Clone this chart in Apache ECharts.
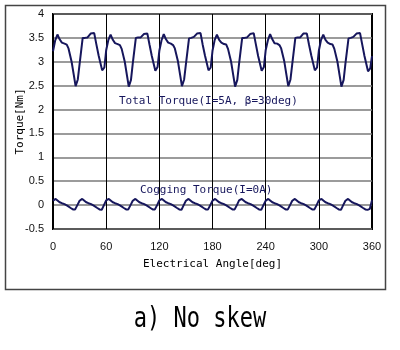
<!DOCTYPE html>
<html>
<head>
<meta charset="utf-8">
<script src="https://cdn.jsdelivr.net/npm/echarts@6/dist/echarts.min.js"></script>
<style>html,body{margin:0;padding:0;background:#fff}#c{width:400px;height:350px}</style>
</head>
<body>
<div id="c"></div>
<script>
// ---- data ----
const totalAngle = [
  0,2.5,5,7.5,10,13,15.5,17.5,21,23.5,25.5,28,30,33.5,36,39,42.5,46.5,49,51.5,55.5,58,
  60,62.5,65,67.5,70,73,75.5,77.5,81,83.5,85.5,88,90,93.5,96,99,102.5,106.5,109,111.5,115.5,118,
  120,122.5,125,127.5,130,133,135.5,137.5,141,143.5,145.5,148,150,153.5,156,159,162.5,166.5,169,171.5,175.5,178,
  180,182.5,185,187.5,190,193,195.5,197.5,201,203.5,205.5,208,210,213.5,216,219,222.5,226.5,229,231.5,235.5,238,
  240,242.5,245,247.5,250,253,255.5,257.5,261,263.5,265.5,268,270,273.5,276,279,282.5,286.5,289,291.5,295.5,298,
  300,302.5,305,307.5,310,313,315.5,317.5,321,323.5,325.5,328,330,333.5,336,339,342.5,346.5,349,351.5,355.5,358,360
];
const totalTorque = [
  3.22,3.45,3.57,3.47,3.40,3.38,3.36,3.28,3.00,2.72,2.49,2.63,2.95,3.50,3.50,3.51,3.59,3.60,3.36,3.13,2.82,2.88,
  3.24,3.46,3.57,3.46,3.39,3.37,3.35,3.27,3.00,2.71,2.48,2.62,2.96,3.50,3.51,3.51,3.58,3.59,3.35,3.12,2.81,2.89,
  3.23,3.45,3.58,3.47,3.40,3.38,3.35,3.28,3.01,2.72,2.49,2.63,2.95,3.49,3.50,3.52,3.59,3.60,3.35,3.13,2.82,2.88,
  3.23,3.46,3.57,3.46,3.40,3.37,3.36,3.27,3.00,2.71,2.48,2.62,2.96,3.50,3.50,3.51,3.58,3.60,3.36,3.12,2.81,2.89,
  3.24,3.45,3.58,3.47,3.39,3.38,3.35,3.28,3.01,2.72,2.49,2.63,2.95,3.50,3.51,3.51,3.59,3.59,3.35,3.13,2.82,2.88,
  3.23,3.46,3.57,3.46,3.40,3.37,3.36,3.27,3.00,2.71,2.48,2.62,2.96,3.49,3.50,3.52,3.59,3.60,3.36,3.12,2.80,2.86,3.12
];
const coggingAngle = [
  0,3,5,7.5,10,13,16,18,20,22.5,25,27.5,
  30,33,35,37.5,40,43,46,48,50,52.5,55,57.5,
  60,63,65,67.5,70,73,76,78,80,82.5,85,87.5,
  90,93,95,97.5,100,103,106,108,110,112.5,115,117.5,
  120,123,125,127.5,130,133,136,138,140,142.5,145,147.5,
  150,153,155,157.5,160,163,166,168,170,172.5,175,177.5,
  180,183,185,187.5,190,193,196,198,200,202.5,205,207.5,
  210,213,215,217.5,220,223,226,228,230,232.5,235,237.5,
  240,243,245,247.5,250,253,256,258,260,262.5,265,267.5,
  270,273,275,277.5,280,283,286,288,290,292.5,295,297.5,
  300,303,305,307.5,310,313,316,318,320,322.5,325,327.5,
  330,333,335,337.5,340,343,346,348,350,352.5,355,357.5,360
];
const coggingTorque = [
  0.09,0.13,0.10,0.06,0.04,0.02,-0.01,-0.03,-0.06,-0.09,-0.09,0.00,
  0.09,0.13,0.10,0.06,0.04,0.02,-0.01,-0.03,-0.06,-0.09,-0.10,0.00,
  0.10,0.13,0.10,0.06,0.04,0.02,-0.01,-0.03,-0.06,-0.09,-0.09,0.00,
  0.09,0.13,0.10,0.06,0.04,0.02,-0.01,-0.03,-0.06,-0.09,-0.09,0.00,
  0.10,0.13,0.10,0.06,0.04,0.02,-0.01,-0.03,-0.06,-0.09,-0.10,0.00,
  0.09,0.13,0.10,0.06,0.04,0.02,-0.01,-0.03,-0.06,-0.09,-0.09,0.00,
  0.09,0.13,0.10,0.06,0.04,0.02,-0.01,-0.03,-0.06,-0.09,-0.09,0.00,
  0.10,0.13,0.10,0.06,0.04,0.02,-0.01,-0.03,-0.06,-0.09,-0.10,0.00,
  0.09,0.13,0.10,0.06,0.04,0.02,-0.01,-0.03,-0.06,-0.09,-0.09,0.00,
  0.09,0.13,0.10,0.06,0.04,0.02,-0.01,-0.03,-0.06,-0.09,-0.09,0.00,
  0.10,0.13,0.10,0.06,0.04,0.02,-0.01,-0.03,-0.06,-0.09,-0.10,0.00,
  0.09,0.13,0.10,0.06,0.04,0.02,-0.01,-0.03,-0.06,-0.09,-0.10,-0.08,0.10
];
const xTicks = [0,60,120,180,240,300,360];
const yTicks = [-0.5,0,0.5,1,1.5,2,2.5,3,3.5,4];
const totalLabel = 'Total Torque(I=5A, β=30deg)';
const coggingLabel = 'Cogging Torque(I=0A)';
const xName = 'Electrical Angle[deg]';
const yName = 'Torque[Nm]';
const caption = 'a) No skew';

// ---- chart ----
const zip = (a, b) => a.map((v, i) => [v, b[i]]);
const mono = "'DejaVu Sans Mono', 'Liberation Mono', monospace";
const navy = '#16165c';
const chart = echarts.init(document.getElementById('c'), null, {renderer: 'canvas'});
chart.setOption({
  animation: false,
  backgroundColor: '#fff',
  grid: {left: 53, right: 28, top: 14, bottom: 121, show: true, borderColor: '#000', borderWidth: 2},
  xAxis: {
    type: 'value', min: xTicks[0], max: xTicks[xTicks.length - 1], interval: 60,
    name: xName, nameLocation: 'middle', nameGap: 30,
    nameTextStyle: {fontFamily: mono, fontSize: 11, color: '#000'},
    axisLine: {show: false}, axisTick: {show: false},
    axisLabel: {margin: 12, fontFamily: "'Liberation Sans', Arial, sans-serif", fontSize: 11, color: '#111'},
    splitLine: {show: true, lineStyle: {color: '#000', width: 1}}
  },
  yAxis: {
    type: 'value', min: yTicks[0], max: yTicks[yTicks.length - 1], interval: 0.5,
    name: yName, nameLocation: 'middle', nameGap: 27, nameRotate: 90, nameMoveOverlap: false,
    nameTextStyle: {fontFamily: mono, fontSize: 11, color: '#000'},
    axisLine: {show: false}, axisTick: {show: false},
    axisLabel: {margin: 9, fontFamily: "'Liberation Sans', Arial, sans-serif", fontSize: 11, color: '#111'},
    splitLine: {show: true, lineStyle: {color: '#7a7a7a', width: 1.6}}
  },
  series: [
    {type: 'line', data: zip(totalAngle, totalTorque), showSymbol: false, symbol: 'none',
     lineStyle: {color: navy, width: 2}, z: 3},
    {type: 'line', data: zip(coggingAngle, coggingTorque), showSymbol: false, symbol: 'none',
     lineStyle: {color: navy, width: 2}, z: 3}
  ],
  graphic: [
    {type: 'rect', left: 3, top: 3, z: -1, silent: true,
     shape: {width: 380, height: 284}, style: {fill: 'none', stroke: '#444', lineWidth: 1.5}},
    {type: 'text', left: 119, top: 96, z: 10,
     style: {text: totalLabel, font: '11px ' + mono, fill: navy}},
    {type: 'text', left: 140, top: 185, z: 10,
     style: {text: coggingLabel, font: '11px ' + mono, fill: navy}},
    {type: 'text', x: 200, y: 320, scaleX: 1, scaleY: 1.3, originX: 0, originY: 0, z: 10,
     style: {x: 0, y: 0, text: caption, font: '22px ' + mono, fill: '#000', textAlign: 'center', textVerticalAlign: 'middle'}}
  ]
});
</script>
</body>
</html>
